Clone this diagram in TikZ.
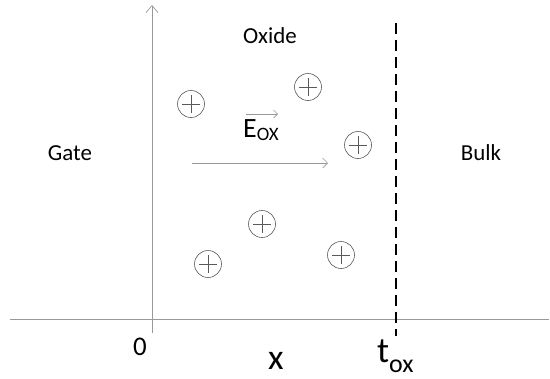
\documentclass[tikz,border=0pt]{standalone}
\usepackage{fontspec}
\setmainfont{Carlito}
\usetikzlibrary{arrows.meta}

\begin{document}
\begin{tikzpicture}[x=1bp,y=-1bp,
  axis/.style={draw=gray!80,line width=0.7pt},
  charge/.style={circle,draw=gray!70!black,line width=0.6pt,minimum size=27bp,inner sep=0pt,
    path picture={\draw[line width=0.6pt] ([xshift=-9bp]path picture bounding box.center) -- ([xshift=9bp]path picture bounding box.center);
      \draw[line width=0.6pt] ([yshift=-9bp]path picture bounding box.center) -- ([yshift=9bp]path picture bounding box.center);}},
  lbl/.style={font=\fontsize{23}{26}\selectfont,inner sep=0pt,anchor=base},
  big/.style={font=\fontsize{36}{40}\selectfont,inner sep=0pt,anchor=base},
]
\useasboundingbox (0,0) rectangle (550,378);

% axes
\coordinate (xl) at (10,319);
\coordinate (xr) at (549,319);
\coordinate (yb) at (152,333);
\coordinate (yt) at (152,5);
\draw[axis] (xl) -- (xr);
\draw[axis,-{Straight Barb[length=7bp,width=12bp]}] (yb) -- (yt);

% oxide edge
\coordinate (dt) at (396,23);
\coordinate (db) at (396,336);
\draw[line width=2.2pt,dash pattern=on 11bp off 6bp] (dt) -- (db);

% regions
\node[lbl] (oxide) at (270,43) {Oxide};
\node[lbl] (gate) at (70,160) {Gate};
\node[lbl] (bulk) at (481,160) {Bulk};

% field
\coordinate (fs) at (192,163);
\coordinate (fe) at (328,163);
\draw[axis,-{Straight Barb[length=5bp,width=10bp]}] (fs) -- (fe);
\node[font=\fontsize{28}{30}\selectfont,inner sep=0pt,anchor=base west] (eox) at (243,137) {E\raisebox{-3bp}{\fontsize{19}{20}\selectfont OX}};
\coordinate (vs) at (246,114);
\coordinate (ve) at (278,114);
\draw[axis,line width=0.6pt,-{Straight Barb[length=4bp,width=8bp]}] (vs) -- (ve);

% charges
\node[charge] (c1) at (191,104) {};
\node[charge] (c2) at (308,87) {};
\node[charge] (c3) at (358,145) {};
\node[charge] (c4) at (262,224) {};
\node[charge] (c5) at (208,264) {};
\node[charge] (c6) at (341,255) {};

% axis labels
\node[lbl,font=\fontsize{27}{30}\selectfont] (zero) at (140,355) {0};
\node[big] (xlab) at (276,369) {x};
\node[big,anchor=base west] (tox) at (377,362) {t\raisebox{-10bp}{\fontsize{26}{28}\selectfont ox}};
\end{tikzpicture}
\end{document}
